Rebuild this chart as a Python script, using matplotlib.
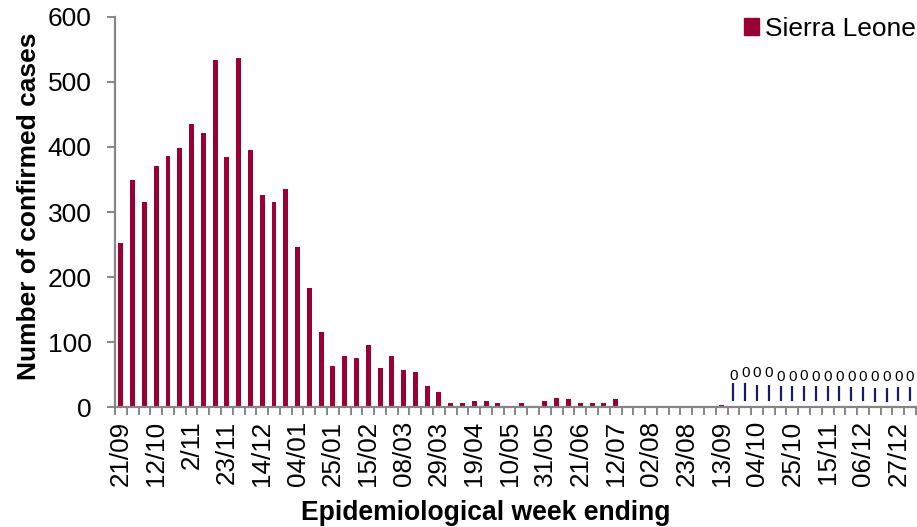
#!/usr/bin/env python3
# -*- coding: utf-8 -*-
"""
Confirmed Ebola cases per epidemiological week, Sierra Leone.
"""

import numpy as np
import matplotlib
matplotlib.use('Agg')
import matplotlib.pyplot as plt
from matplotlib.patches import Patch

# ─────────────────────────────────────────────
# DATA
# ─────────────────────────────────────────────

# one value per week, 21/09/2014 -> 03/01/2016
cases = [253, 349, 315, 371, 386, 398, 435, 421, 533, 385,
         537, 396, 326, 315, 336, 247, 183, 116, 64, 79,
         75, 95, 61, 79, 57, 54, 32, 24, 7, 7,
         10, 9, 7, 1, 6, 2, 10, 14, 13, 6,
         6, 7, 13, 2, 2, 1, 0, 0, 0, 0,
         0, 4, 0, 0, 0, 0, 0, 0, 0, 0,
         0, 0, 0, 0, 0, 0, 0, 0]

tick_labels = ['21/09', '12/10', '2/11', '23/11', '14/12', '04/01', '25/01',
               '15/02', '08/03', '29/03', '19/04', '10/05', '31/05', '21/06',
               '12/07', '02/08', '23/08', '13/09', '04/10', '25/10', '15/11',
               '06/12', '27/12']

# zero-case weeks flagged at the end (from 20/09/2015)
zero_first = 52
zero_top = [37, 37, 35, 35, 32, 33, 32, 32, 32, 33, 31, 31, 30, 30, 31, 31]
zero_bottom = [10, 10, 9, 9, 9, 9, 9, 9, 10, 10, 9, 9, 8, 8, 9, 9]
zero_label_y = [48, 53, 53, 53, 47, 47, 48, 47, 47, 47, 46, 46, 46, 46, 47, 47]

# ─────────────────────────────────────────────
# STYLE
# ─────────────────────────────────────────────

BAR_COLOR = '#990033'
LINE_COLOR = '#1a1a66'
AXIS_COLOR = '#868686'

plt.rcParams['font.family'] = ['Liberation Sans', 'DejaVu Sans']

# ─────────────────────────────────────────────
# PLOT
# ─────────────────────────────────────────────

fig = plt.figure(figsize=(9.17, 5.27), dpi=100)
ax = fig.add_axes([0.1254, 0.2271, 0.8735, 0.7412])

x = np.arange(len(cases))
ax.bar(x, cases, width=0.42, color=BAR_COLOR, zorder=2)

zx = x[zero_first:]
ax.vlines(zx, zero_bottom, zero_top, color=LINE_COLOR, linewidth=1.6)
for xi, yi in zip(zx, zero_label_y):
    ax.text(xi, yi, '0', ha='center', va='center', fontsize=11)

ax.set_xlim(-0.5, len(cases) - 0.5)
ax.set_ylim(0, 600)
ax.set_yticks(range(0, 601, 100))

# ticks at week boundaries, labels every third week
ax.set_xticks(np.arange(len(cases) + 1) - 0.5)
ax.set_xticklabels([])
ax.set_xticks(x[::3][:len(tick_labels)], minor=True)
ax.set_xticklabels(tick_labels, minor=True, rotation=90, fontsize=18.7)
ax.tick_params(axis='x', which='major', length=5.5, width=1.4, color=AXIS_COLOR)
ax.tick_params(axis='x', which='minor', length=0, pad=9.5)
ax.tick_params(axis='y', length=5.5, width=1.4, color=AXIS_COLOR, labelsize=19, pad=11.5)

for side in ['top', 'right']:
    ax.spines[side].set_visible(False)
for side in ['left', 'bottom']:
    ax.spines[side].set_color(AXIS_COLOR)
    ax.spines[side].set_linewidth(1.6)

ax.set_ylabel('Number of confirmed cases', fontsize=19, fontweight='bold')
ax.yaxis.set_label_coords(-0.0925, 0.515)
ax.set_xlabel('Epidemiological week ending', fontsize=19.1, fontweight='bold')
ax.xaxis.set_label_coords(0.463, -0.236)

ax.legend(handles=[Patch(color=BAR_COLOR, label='Sierra Leone')],
          loc='upper right', bbox_to_anchor=(1.02, 1.04), fontsize=19,
          frameon=False, handlelength=0.6, handleheight=0.6, handletextpad=0.22,
          borderpad=0.1)

fig.savefig('out.png', dpi=100)
